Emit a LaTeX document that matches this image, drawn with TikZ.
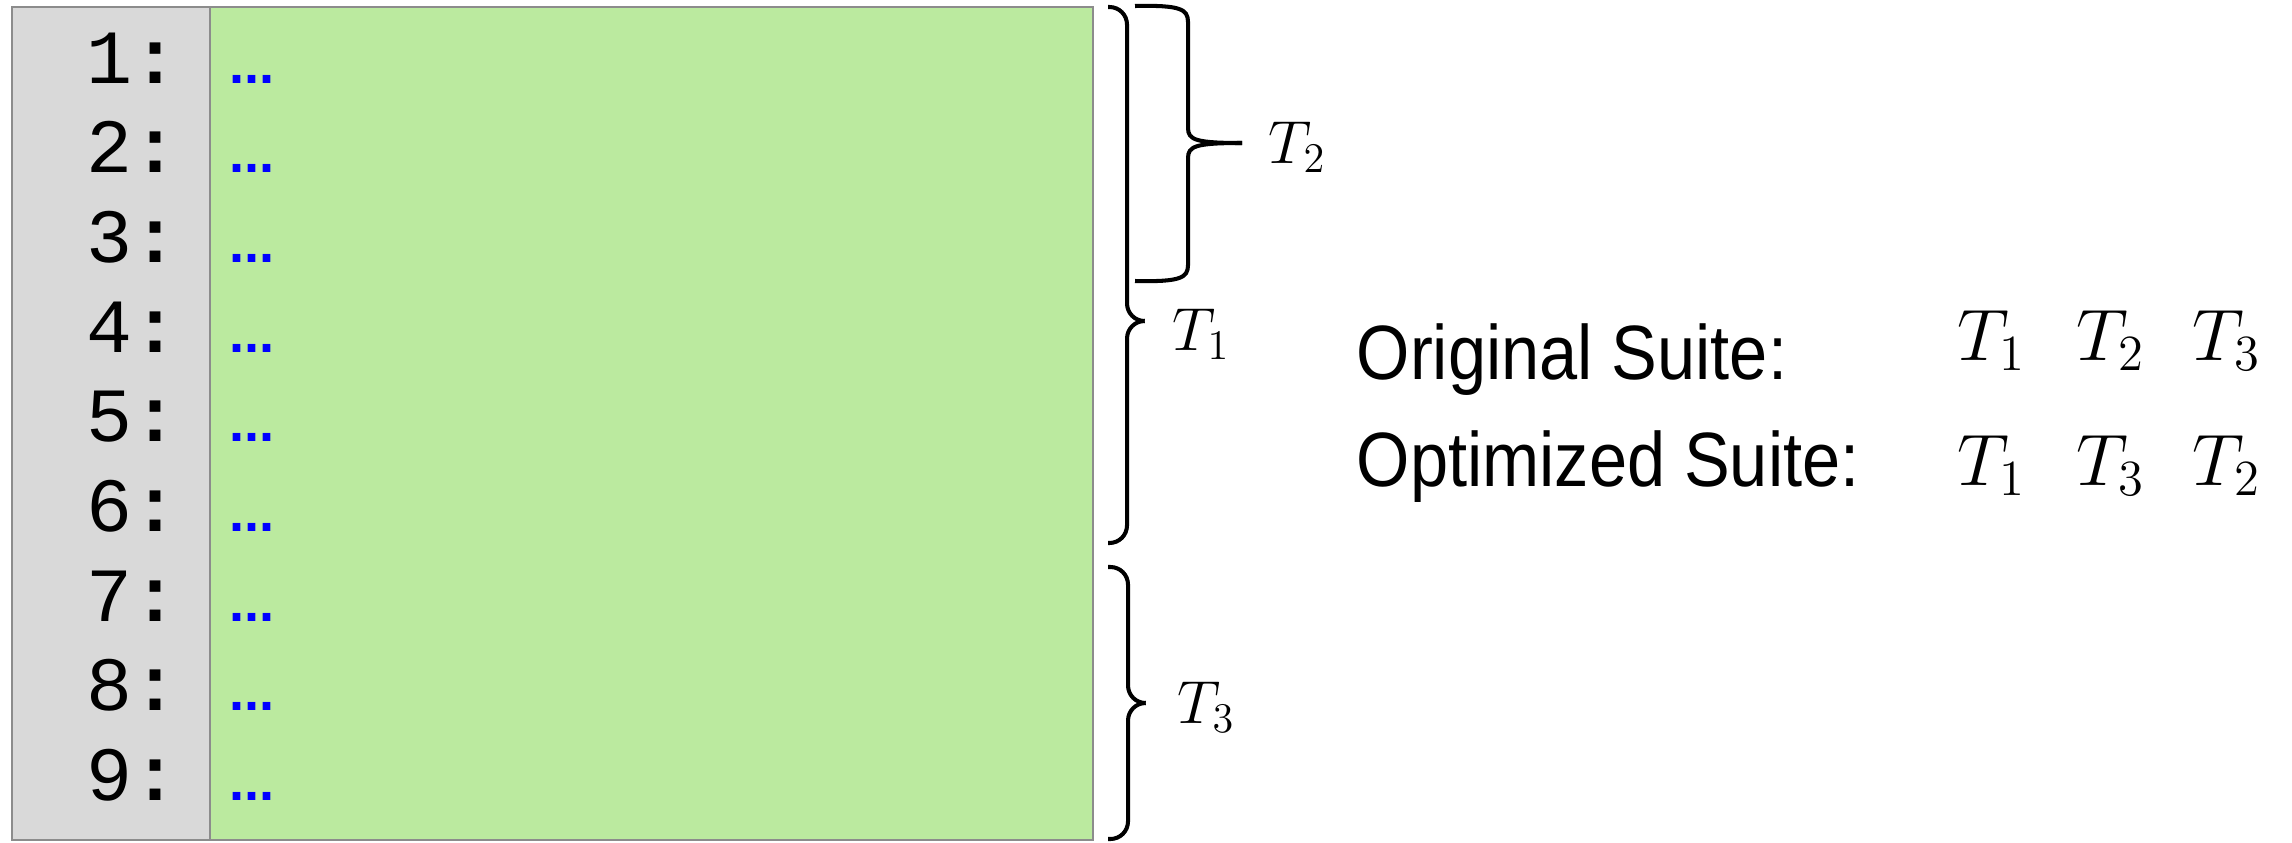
\documentclass[tikz,border=0pt]{standalone}
\usepackage{fontspec}
\setmainfont{Liberation Sans}
\setmonofont{Liberation Mono}
\newfontfamily\suitefont[FakeStretch=0.89]{Liberation Sans}
\usetikzlibrary{positioning,calc}
\definecolor{Gutter}{HTML}{D9D9D9}
\definecolor{Frame}{HTML}{8C8C8C}
\definecolor{Listing}{HTML}{BBEA9F}
\definecolor{Stub}{HTML}{0000FF}
\tikzset{
  lineno/.style={anchor=base east,inner sep=0pt,font=\fontsize{21.8}{24}\ttfamily},
  stub/.style={anchor=base west,inner sep=0pt,text=Stub,font=\fontsize{15.4}{18}\bfseries},
  bracket/.style={draw=black,line width=1.15pt,rounded corners=5pt},
  curly/.style={draw=black,line width=1.15pt},
  testlab/.style={anchor=base west,inner sep=0pt,font=\fontsize{17.5}{20}\selectfont},
  suite/.style={anchor=base west,inner sep=0pt,font=\fontsize{21.9}{26}\suitefont},
  order/.style={anchor=base west,inner sep=0pt,font=\fontsize{20}{24}\selectfont}
}
\begin{document}
\begin{tikzpicture}[x=0.01cm,y=-0.01cm]
        \useasboundingbox (0,0) rectangle (2292,842);
        \coordinate (nw) at (12,7);
        \coordinate (cut) at (210,840);
        \coordinate (se) at (1093,840);
        \fill[Gutter] (nw) rectangle (cut);
        \fill[Listing] (cut|-nw) rectangle (se);
        \draw[Frame,line width=.6pt] (nw) rectangle (se);
        \draw[Frame,line width=.6pt] (cut|-nw) -- (cut);

        \foreach \i [evaluate=\i as \yb using 83+(\i-1)*89.7] in {1,...,9}{
          \node[lineno] (num\i) at (179,\yb) {\i\textbf{:}};
          \node[stub] (code\i) at (229,\yb) {...};
        }

        \draw[bracket] (1108,7) -- (1127,7) -- (1127,321) -- (1144,321);
        \draw[bracket] (1144,321) -- (1127,321) -- (1127,543) -- (1108,543);
        \draw[bracket] (1108,567) -- (1128,567) -- (1128,703) -- (1145,703);
        \draw[bracket] (1145,703) -- (1128,703) -- (1128,839) -- (1108,839);
        \draw[curly] (1135,6) .. controls (1180,5) and (1188,9) .. (1188,22) -- (1188,128) .. controls (1188,140) and (1196,143) .. (1242,143);
        \draw[curly] (1135,281) .. controls (1180,282) and (1188,278) .. (1188,265) -- (1188,158) .. controls (1188,146) and (1196,143) .. (1242,143);

        \node[testlab] (t1) at (1172,350) {$T_1$};
        \node[testlab] (t2) at (1268,163) {$T_2$};
        \node[testlab] (t3) at (1177,723) {$T_3$};

        \node[suite] (orig) at (1356,379) {Original Suite:};
        \node[suite] (opt) at (1356,486) {Optimized Suite:};
        \node[order] (oa) at (1957,360) {$T_1$};
        \node[order] (ob) at (2076,360) {$T_2$};
        \node[order] (oc) at (2192,360) {$T_3$};
        \node[order] (pa) at (1957,485) {$T_1$};
        \node[order] (pb) at (2076,485) {$T_3$};
        \node[order] (pc) at (2192,485) {$T_2$};
      \end{tikzpicture}
\end{document}
